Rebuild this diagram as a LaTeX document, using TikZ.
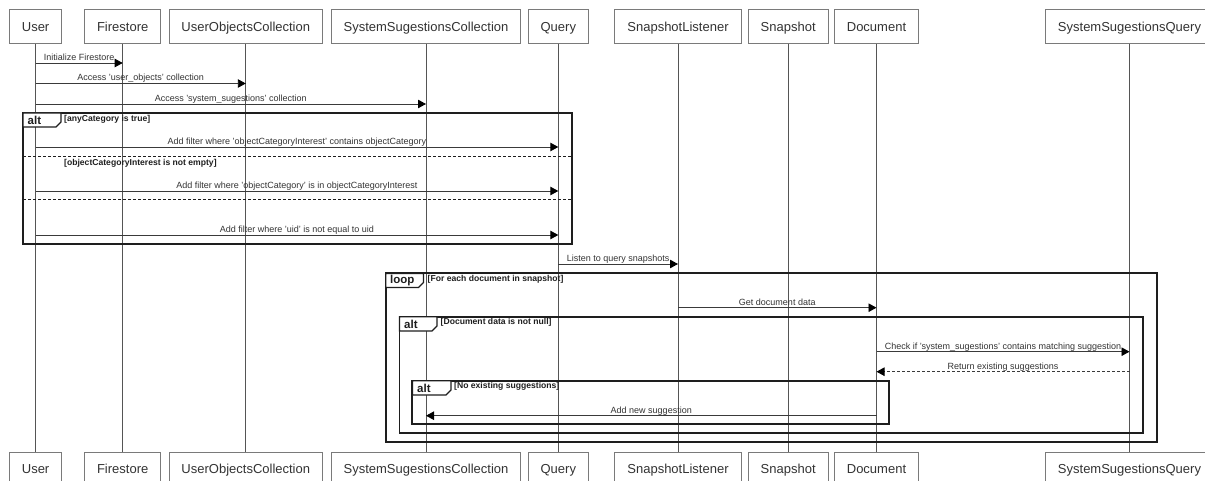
\documentclass[tikz,border=0pt]{standalone}
\usepackage{fontspec}
\setmainfont{Liberation Sans}
\usetikzlibrary{arrows.meta}

\definecolor{boxgray}{HTML}{7A7A7A}
\definecolor{linegray}{HTML}{555555}
\definecolor{msggray}{HTML}{3A3A3A}
\definecolor{txtgray}{HTML}{333333}
\definecolor{framecol}{HTML}{1E1E1E}

\begin{document}
\begin{tikzpicture}[x=1pt,y=-1pt,
  actor/.style={draw=boxgray, line width=0.9pt, fill=white, minimum height=34pt,
    inner xsep=12.5pt, inner ysep=0pt, text height=9.6pt, text depth=0.4pt,
    font=\fontsize{13}{15}\selectfont, text=txtgray},
  life/.style={draw=linegray, line width=0.8pt},
  msg/.style={draw=msggray, line width=0.9pt,
    -{Triangle[length=8pt,width=8.5pt,color=black]}},
  reply/.style={msg, dash pattern=on 3pt off 2pt},
  msglabel/.style={font=\fontsize{9}{10}\selectfont, text=txtgray, inner sep=0pt,
    anchor=base, yshift=2.6pt},
  frame/.style={draw=framecol, line width=1.7pt},
  fragtab/.style={draw=framecol, line width=1.4pt, fill=white},
  tabtext/.style={font=\bfseries\fontsize{11.5}{12}\selectfont, text=framecol,
    inner sep=0pt, anchor=west},
  guard/.style={font=\bfseries\fontsize{8.6}{10}\selectfont, text=framecol,
    inner sep=0pt, anchor=west},
  sep/.style={draw=framecol, line width=1.2pt, dash pattern=on 3pt off 2pt}
]
\useasboundingbox (0,0) rectangle (1205,481);
\clip (0,0) rectangle (1205,481);

% participants, top and bottom, with their lifelines
\foreach \n/\x/\t in {user/35.6/User, fire/122.7/Firestore,
    uoc/245.8/UserObjectsCollection, ssc/426/SystemSugestionsCollection,
    query/558.3/Query, listener/678/SnapshotListener, snap/788.2/Snapshot,
    doc/876.5/Document, ssq/1129.5/SystemSugestionsQuery} {
  \node[actor] (t\n) at (\x,26.5) {\t};
  \node[actor] (b\n) at (\x,469) {\t};
  \draw[life] (t\n.south) -- (b\n.north);
}

% message rows
\coordinate (r1) at (0,63);
\coordinate (r2) at (0,83.5);
\coordinate (r3) at (0,104);
\coordinate (r4) at (0,147);
\coordinate (r5) at (0,191);
\coordinate (r6) at (0,235);
\coordinate (r7) at (0,264);
\coordinate (r8) at (0,307.7);
\coordinate (r9) at (0,351.7);
\coordinate (r10) at (0,371.7);
\coordinate (r11) at (0,415.7);

\draw[msg] (tuser |- r1) -- node[msglabel] {Initialize Firestore} (tfire |- r1);
\draw[msg] (tuser |- r2) -- node[msglabel] {Access 'user\_objects' collection} (tuoc |- r2);
\draw[msg] (tuser |- r3) -- node[msglabel] {Access 'system\_sugestions' collection} (tssc |- r3);

% alt: category filters
\draw[frame] (23,113) rectangle (572,244);
\draw[fragtab] (23,113) -- (61,113) -- (61,122) -- (56,127) -- (23,127) -- cycle;
\node[tabtext] (altA) at (27.5,120.5) {alt};
\node[guard] (gA1) at (64,119.5) {[anyCategory is true]};
\draw[msg] (tuser |- r4) -- node[msglabel] {Add filter where 'objectCategoryInterest' contains objectCategory} (tquery |- r4);
\draw[sep] (23,156.5) -- (572,156.5);
\node[guard] (gA2) at (64,163) {[objectCategoryInterest is not empty]};
\draw[msg] (tuser |- r5) -- node[msglabel] {Add filter where 'objectCategory' is in objectCategoryInterest} (tquery |- r5);
\draw[sep] (23,199.5) -- (572,199.5);
\draw[msg] (tuser |- r6) -- node[msglabel] {Add filter where 'uid' is not equal to uid} (tquery |- r6);

\draw[msg] (tquery |- r7) -- node[msglabel] {Listen to query snapshots} (tlistener |- r7);

% loop over the snapshot documents
\draw[frame] (385.7,273.3) rectangle (1156.7,442.3);
\draw[fragtab] (385.7,273.3) -- (423.5,273.3) -- (423.5,282.5) -- (418.5,287.5) -- (385.7,287.5) -- cycle;
\node[tabtext] (loopB) at (390,280.5) {loop};
\node[guard] (gB) at (427.5,279.5) {[For each document in snapshot]};
\draw[msg] (tlistener |- r8) -- node[msglabel] {Get document data} (tdoc |- r8);

% alt: document data present
\draw[frame] (399.5,316.7) rectangle (1143.3,433.3);
\draw[fragtab] (399.5,316.7) -- (437,316.7) -- (437,326) -- (432,331) -- (399.5,331) -- cycle;
\node[tabtext] (altC) at (404,324) {alt};
\node[guard] (gC) at (440.5,322.5) {[Document data is not null]};
\draw[msg] (tdoc |- r9) -- node[msglabel] {Check if 'system\_sugestions' contains matching suggestion} (tssq |- r9);
\draw[reply] (tssq |- r10) -- node[msglabel] {Return existing suggestions} (tdoc |- r10);

% alt: nothing found
\draw[frame] (412.3,380.7) rectangle (889.3,424);
\draw[fragtab] (412.3,380.7) -- (451,380.7) -- (451,390) -- (446,395) -- (412.3,395) -- cycle;
\node[tabtext] (altD) at (417,388) {alt};
\node[guard] (gD) at (454,386.7) {[No existing suggestions]};
\draw[msg] (tdoc |- r11) -- node[msglabel] {Add new suggestion} (tssc |- r11);
\end{tikzpicture}
\end{document}
